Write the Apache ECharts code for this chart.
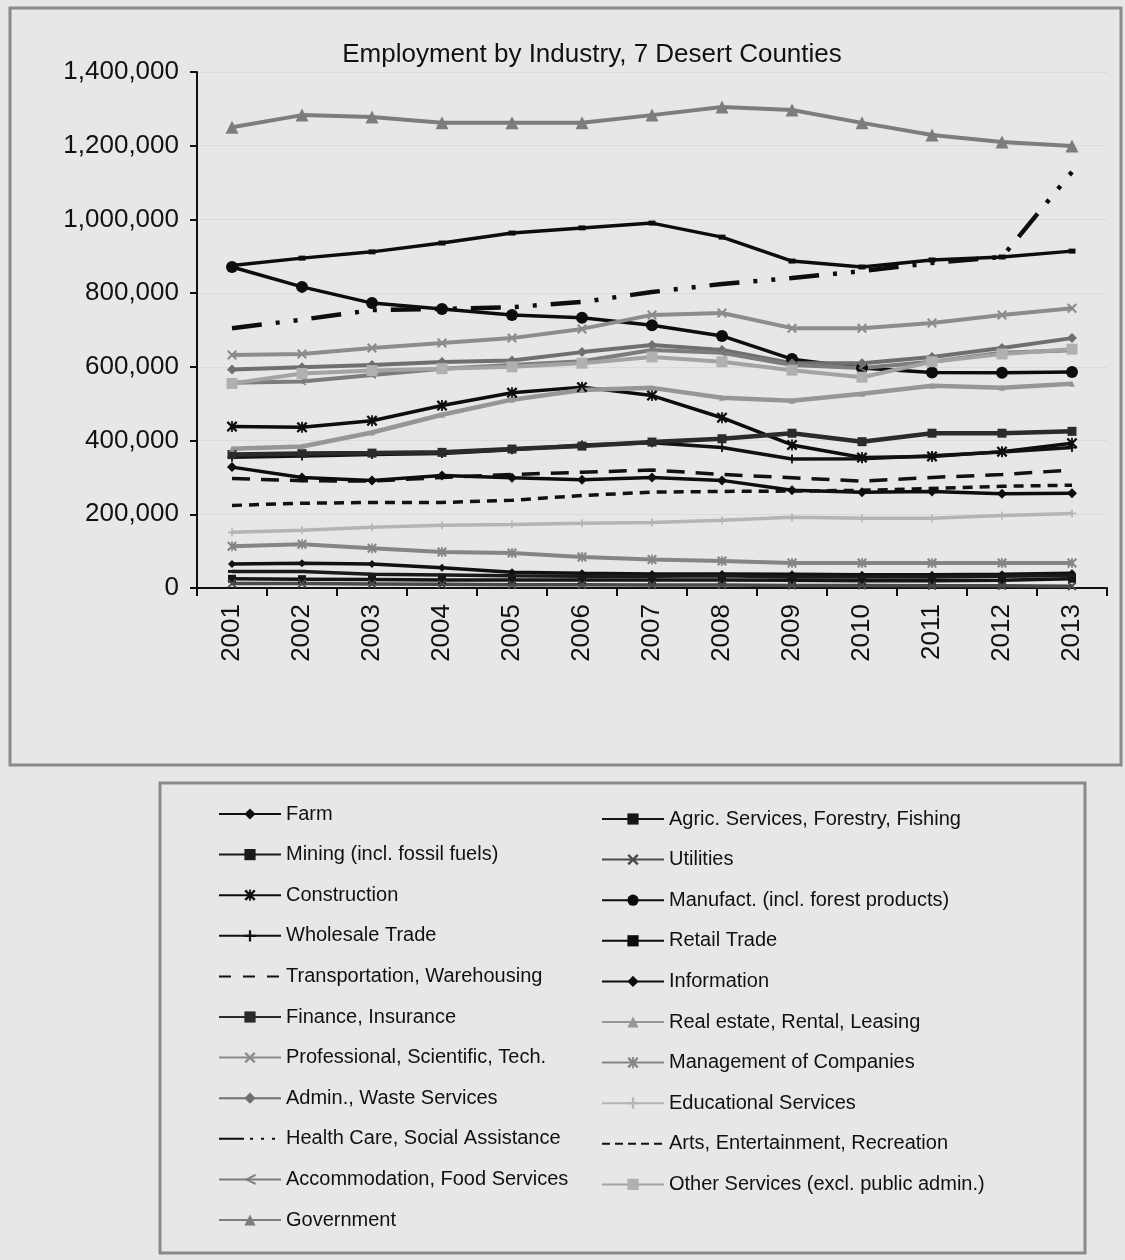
<!DOCTYPE html>
<html>
<head>
<meta charset="utf-8">
<title>Employment by Industry, 7 Desert Counties</title>
<script src="https://cdn.jsdelivr.net/npm/echarts/dist/echarts.min.js"></script>
<style>
  html, body { margin: 0; padding: 0; background: #e7e7e7; }
  #chart { width: 1125px; height: 1260px; }
</style>
</head>
<body>
<div id="chart"></div>
<script>
// Years on the category axis
const years = ['2001','2002','2003','2004','2005','2006','2007','2008','2009','2010','2011','2012','2013'];

// Employment per industry, one value per year
const farm           = [65000, 67000, 65000, 55000, 43000, 40000, 38000, 38000, 37000, 36000, 36000, 37000, 40000];
const agric          = [25000, 24000, 23000, 22000, 22000, 22000, 22000, 22000, 21000, 20000, 20000, 21000, 25000];
const mining         = [45000, 45000, 37000, 35000, 33000, 32000, 32000, 33000, 30000, 30000, 30000, 32000, 34000];
const utilities      = [12000, 12000, 11000, 10000, 9000, 9000, 8000, 8000, 7000, 7000, 6000, 6000, 5000];
const construction   = [438000, 436000, 454000, 495000, 530000, 545000, 522000, 462000, 388000, 354000, 357000, 370000, 393000];
const manufacturing  = [871000, 817000, 773000, 757000, 741000, 733000, 713000, 684000, 621000, 597000, 585000, 584000, 586000];
const wholesale      = [355000, 358000, 362000, 365000, 375000, 388000, 394000, 381000, 350000, 351000, 359000, 369000, 381000];
const retail         = [875000, 895000, 912000, 936000, 963000, 977000, 990000, 952000, 887000, 871000, 890000, 898000, 914000];
const transportation = [297000, 291000, 290000, 300000, 308000, 314000, 320000, 308000, 299000, 290000, 300000, 308000, 320000];
const information    = [328000, 300000, 292000, 305000, 299000, 294000, 300000, 292000, 265000, 260000, 262000, 256000, 257000];
const finance        = [362000, 365000, 366000, 368000, 377000, 385000, 396000, 405000, 420000, 397000, 420000, 420000, 425000];
const realEstate     = [378000, 384000, 422000, 470000, 511000, 537000, 543000, 516000, 508000, 527000, 549000, 543000, 554000];
const professional   = [632000, 635000, 651000, 665000, 678000, 703000, 741000, 746000, 705000, 705000, 719000, 741000, 759000];
const management     = [113000, 119000, 108000, 98000, 95000, 84000, 77000, 73000, 68000, 68000, 68000, 68000, 68000];
const admin          = [593000, 599000, 605000, 613000, 617000, 640000, 659000, 646000, 610000, 610000, 627000, 651000, 678000];
const educational    = [151000, 157000, 165000, 170000, 172000, 176000, 178000, 184000, 192000, 189000, 189000, 197000, 202000];
const healthCare     = [705000, 728000, 754000, 757000, 762000, 776000, 803000, 825000, 841000, 860000, 882000, 898000, 1129000];
const arts           = [224000, 230000, 232000, 232000, 238000, 251000, 260000, 262000, 263000, 265000, 270000, 276000, 279000];
const accommodation  = [557000, 560000, 578000, 595000, 605000, 615000, 646000, 638000, 605000, 597000, 614000, 638000, 645000];
const otherServices  = [555000, 582000, 590000, 595000, 600000, 610000, 627000, 614000, 591000, 572000, 614000, 635000, 648000];
const government     = [1250000, 1283000, 1278000, 1262000, 1262000, 1262000, 1283000, 1305000, 1297000, 1262000, 1229000, 1210000, 1199000];

// Value-axis tick settings
const yMin = 0, yMax = 1400000, yStep = 200000;

// Marker shapes
const xMark    = 'path://M0,1.5L1.5,0L5,3.5L8.5,0L10,1.5L6.5,5L10,8.5L8.5,10L5,6.5L1.5,10L0,8.5L3.5,5Z';
const starMark = 'path://M0,1.5L1.5,0L5,3.5L8.5,0L10,1.5L6.5,5L10,8.5L8.5,10L5,6.5L1.5,10L0,8.5L3.5,5Z M4.2,0L5.8,0L5.8,10L4.2,10Z';
const plusMark = 'path://M4,0L6,0L6,4L10,4L10,6L6,6L6,10L4,10L4,6L0,6L0,4L4,4Z';
const ltMark   = 'path://M10,0L10,2L3.5,5L10,8L10,10L0,5Z';

const FONT = "'Liberation Sans', Arial, sans-serif";

function line(name, data, color, width, symbol, size, dash, fill) {
  return {
    name: name,
    type: 'line',
    data: data,
    symbol: symbol || 'none',
    symbolSize: size || 6,
    showSymbol: !!symbol && symbol !== 'none',
    smooth: false,
    lineStyle: { color: color, width: width, type: dash || 'solid' },
    itemStyle: { color: fill || color, borderWidth: 0 },
    emphasis: { disabled: true },
    animation: false
  };
}

const series = [
  line('Farm', farm, '#111111', 3.5, 'diamond', 8),
  line('Agric. Services, Forestry, Fishing', agric, '#151515', 3.5, 'rect', 8),
  line('Mining (incl. fossil fuels)', mining, '#1a1a1a', 3.5, 'rect', [8, 3]),
  line('Utilities', utilities, '#4a4a4a', 3.5, xMark, 9),
  line('Construction', construction, '#0d0d0d', 3.5, starMark, 11),
  line('Manufact. (incl. forest products)', manufacturing, '#0d0d0d', 3.5, 'circle', 12),
  line('Wholesale Trade', wholesale, '#111111', 3.5, plusMark, 9),
  line('Retail Trade', retail, '#0d0d0d', 3.5, 'rect', [7, 5]),
  line('Transportation, Warehousing', transportation, '#111111', 3.5, 'none', 0, [18, 11]),
  line('Information', information, '#0d0d0d', 3.5, 'diamond', 10),
  line('Finance, Insurance', finance, '#2b2b2b', 4.5, 'rect', 9),
  line('Real estate, Rental, Leasing', realEstate, '#969696', 4.5, 'triangle', 6),
  line('Professional, Scientific, Tech.', professional, '#8c8c8c', 4, xMark, 10),
  line('Management of Companies', management, '#858585', 4, starMark, 10),
  line('Admin., Waste Services', admin, '#6f6f6f', 4, 'diamond', 10),
  line('Educational Services', educational, '#b4b4b4', 3.5, plusMark, 8),
  line('Health Care, Social Assistance', healthCare, '#0d0d0d', 4.5, 'none', 0, [30, 14, 4, 14, 4, 14]),
  line('Arts, Entertainment, Recreation', arts, '#111111', 3.5, 'none', 0, [10, 7]),
  line('Accommodation, Food Services', accommodation, '#7c7c7c', 4, ltMark, 8),
  line('Other Services (excl. public admin.)', otherServices, '#a3a3a3', 4, 'rect', 11, null, '#b0b0b0'),
  line('Government', government, '#7d7d7d', 4, 'triangle', 13)
];

// Shorter dash patterns so each legend swatch shows its full line style
const legendDash = {
  'Transportation, Warehousing': [12, 12],
  'Health Care, Social Assistance': [25, 6, 3, 8, 3, 8, 3, 20],
  'Arts, Entertainment, Recreation': [8, 5]
};

// Legend entries: series without markers get a plain line icon
function legendItem(s) {
  if (s.symbol === 'none') {
    return {
      name: s.name,
      itemStyle: { color: 'rgba(0,0,0,0)', opacity: 0, borderWidth: 0 },
      lineStyle: { type: legendDash[s.name] || 'solid' }
    };
  }
  return { name: s.name };
}
const leftItems = series.filter((s, i) => i % 2 === 0).map(legendItem);
const rightItems = series.filter((s, i) => i % 2 === 1).map(legendItem);

const legendCommon = {
  orient: 'vertical',
  itemWidth: 62,
  itemHeight: 14,
  itemGap: 20.6,
  selectedMode: false,
  textStyle: { fontFamily: FONT, fontSize: 20, color: '#111' }
};

const chart = echarts.init(document.getElementById('chart'), null, { renderer: 'canvas' });

chart.setOption({
  backgroundColor: '#e7e7e7',
  animation: false,
  title: {
    text: 'Employment by Industry, 7 Desert Counties',
    left: 587,
    top: 37,
    textAlign: 'center',
    textStyle: { fontFamily: FONT, fontSize: 26, fontWeight: 'normal', color: '#111' }
  },
  graphic: [
    { type: 'rect', z: -1, shape: { x: 10, y: 8, width: 1111, height: 757 },
      style: { fill: 'none', stroke: '#8a8a8a', lineWidth: 3 } },
    { type: 'rect', z: -1, shape: { x: 160, y: 783, width: 925, height: 470 },
      style: { fill: 'none', stroke: '#8a8a8a', lineWidth: 3 } }
  ],
  legend: [
    Object.assign({ left: 213, top: 799, data: leftItems }, legendCommon),
    Object.assign({ left: 596, top: 804, data: rightItems }, legendCommon)
  ],
  grid: { left: 197, right: 18, top: 72, bottom: 672, containLabel: false },
  xAxis: {
    type: 'category',
    data: years,
    boundaryGap: true,
    axisLine: { lineStyle: { color: '#111', width: 2 } },
    axisTick: { show: true, inside: false, length: 8, lineStyle: { color: '#111', width: 2 } },
    axisLabel: { rotate: 90, margin: 16, fontFamily: FONT, fontSize: 26, color: '#111' },
    splitLine: { show: false }
  },
  yAxis: {
    type: 'value',
    min: yMin,
    max: yMax,
    interval: yStep,
    axisLine: { show: true, lineStyle: { color: '#111', width: 2 } },
    axisTick: { show: true, inside: false, length: 7, lineStyle: { color: '#111', width: 2 } },
    axisLabel: {
      margin: 18,
      fontFamily: FONT,
      fontSize: 26,
      color: '#111',
      formatter: v => v.toLocaleString('en-US')
    },
    splitLine: { show: true, lineStyle: { color: '#dadada', width: 1 } }
  },
  series: series
});
</script>
</body>
</html>
